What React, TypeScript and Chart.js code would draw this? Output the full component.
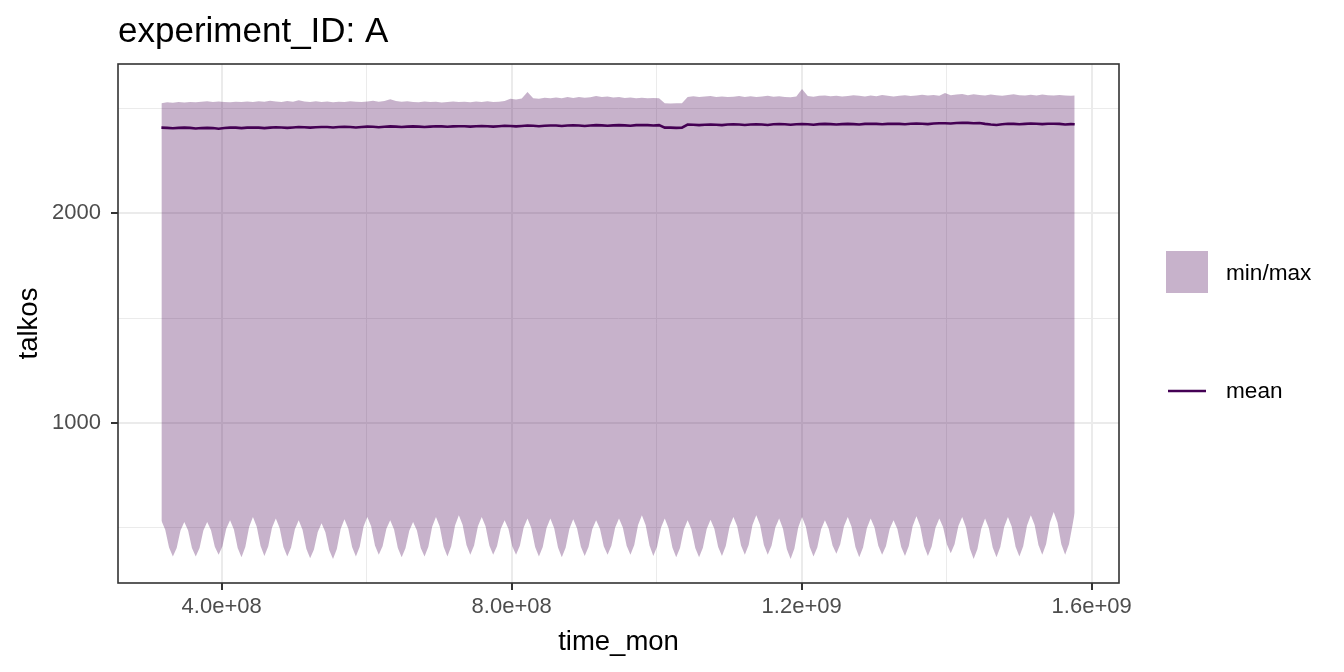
import React, { useEffect, useRef } from 'react';
import { Chart, registerables } from 'chart.js';

Chart.register(...registerables);

// ---- time axis (decimal years -> seconds since epoch) ----
const SEC_PER_YEAR = 31557600;
const START_YEAR = 1980;
const LAST_YEAR_POINT = 2019 + 23 / 24; // mid-December 2019

// min of talkos, sampled every second month (mid Jan, Mar, May, Jul, Sep, Nov), 1980-2019, + Dec 2019
const minValues = [
  532, 489, 404, 361, 402, 485, // 1980
  526, 485, 402, 361, 402, 485, // 1981
  526, 487, 408, 369, 410, 493, // 1982
  534, 490, 402, 358, 406, 502, // 1983
  550, 503, 411, 364, 409, 498, // 1984
  542, 497, 406, 361, 404, 491, // 1985
  534, 489, 398, 353, 395, 478, // 1986
  520, 477, 392, 349, 397, 492, // 1987
  539, 495, 406, 361, 408, 503, // 1988
  550, 505, 414, 369, 410, 493, // 1989
  534, 490, 402, 358, 400, 484, // 1990
  526, 485, 402, 361, 408, 503, // 1991
  550, 503, 408, 361, 410, 509, // 1992
  558, 511, 416, 369, 414, 505, // 1993
  550, 505, 414, 369, 410, 493, // 1994
  534, 493, 410, 369, 412, 499, // 1995
  542, 497, 406, 361, 406, 497, // 1996
  542, 496, 404, 358, 403, 494, // 1997
  539, 495, 408, 364, 407, 492, // 1998
  534, 493, 410, 369, 412, 499, // 1999
  542, 499, 412, 369, 416, 511, // 2000
  558, 510, 413, 364, 409, 498, // 2001
  542, 496, 404, 358, 402, 490, // 2002
  534, 490, 402, 358, 403, 492, // 2003
  537, 494, 407, 364, 411, 504, // 2004
  550, 505, 414, 369, 416, 511, // 2005
  558, 511, 416, 369, 412, 499, // 2006
  542, 494, 397, 349, 399, 500, // 2007
  550, 503, 408, 361, 404, 491, // 2008
  534, 494, 414, 374, 418, 506, // 2009
  550, 502, 406, 358, 404, 496, // 2010
  542, 499, 412, 369, 410, 493, // 2011
  534, 492, 407, 364, 411, 506, // 2012
  553, 506, 411, 364, 409, 498, // 2013
  542, 501, 418, 377, 420, 507, // 2014
  550, 500, 399, 349, 397, 494, // 2015
  542, 496, 404, 358, 406, 502, // 2016
  550, 503, 408, 361, 410, 509, // 2017
  558, 511, 416, 369, 420, 522, // 2018
  573, 522, 420, 369, 419, 518, // 2019
  570, // Dec 2019
];

// max of talkos, quarterly (mid Jan, Apr, Jul, Oct), 1980-2019, + Dec 2019
const maxValues = [
  2526, 2530, 2528, 2531, // 1980
  2529, 2532, 2530, 2533, // 1981
  2535, 2532, 2534, 2531, // 1982
  2530, 2533, 2531, 2534, // 1983
  2532, 2535, 2533, 2537, // 1984
  2534, 2531, 2536, 2533, // 1985
  2540, 2534, 2532, 2535, // 1986
  2531, 2534, 2530, 2533, // 1987
  2532, 2535, 2533, 2531, // 1988
  2534, 2537, 2533, 2536, // 1989
  2545, 2536, 2533, 2535, // 1990
  2532, 2530, 2534, 2531, // 1991
  2533, 2529, 2532, 2534, // 1992
  2531, 2533, 2530, 2534, // 1993
  2532, 2535, 2531, 2533, // 1994
  2536, 2547, 2543, 2548, // 1995
  2579, 2550, 2547, 2552, // 1996
  2549, 2553, 2550, 2555, // 1997
  2551, 2556, 2552, 2554, // 1998
  2560, 2555, 2558, 2553, // 1999
  2556, 2551, 2553, 2550, // 2000
  2552, 2549, 2551, 2549, // 2001
  2526, 2524, 2526, 2525, // 2002
  2556, 2559, 2555, 2558, // 2003
  2560, 2556, 2558, 2555, // 2004
  2557, 2560, 2556, 2559, // 2005
  2555, 2558, 2561, 2557, // 2006
  2559, 2556, 2554, 2558, // 2007
  2594, 2560, 2557, 2561, // 2008
  2563, 2559, 2561, 2558, // 2009
  2560, 2564, 2561, 2558, // 2010
  2562, 2559, 2565, 2561, // 2011
  2558, 2561, 2564, 2560, // 2012
  2563, 2566, 2562, 2565, // 2013
  2561, 2574, 2564, 2567, // 2014
  2570, 2564, 2568, 2565, // 2015
  2563, 2567, 2564, 2561, // 2016
  2565, 2568, 2564, 2562, // 2017
  2566, 2563, 2567, 2564, // 2018
  2562, 2565, 2563, 2561, // 2019
  2562, // Dec 2019
];

// mean of talkos, quarterly (mid Jan, Apr, Jul, Oct), 1980-2019, + Dec 2019
const meanValues = [
  2409, 2408, 2406, 2408, // 1980
  2409, 2408, 2405, 2407, // 1981
  2408, 2407, 2404, 2407, // 1982
  2409, 2409, 2407, 2409, // 1983
  2410, 2409, 2407, 2409, // 1984
  2411, 2410, 2408, 2410, // 1985
  2412, 2411, 2409, 2411, // 1986
  2412, 2412, 2410, 2412, // 1987
  2413, 2412, 2410, 2412, // 1988
  2414, 2413, 2411, 2413, // 1989
  2415, 2414, 2412, 2414, // 1990
  2415, 2414, 2412, 2414, // 1991
  2416, 2415, 2413, 2415, // 1992
  2416, 2416, 2414, 2416, // 1993
  2417, 2416, 2414, 2416, // 1994
  2418, 2417, 2415, 2417, // 1995
  2419, 2418, 2416, 2418, // 1996
  2419, 2419, 2417, 2419, // 1997
  2420, 2419, 2417, 2419, // 1998
  2421, 2420, 2418, 2420, // 1999
  2421, 2420, 2418, 2421, // 2000
  2422, 2421, 2419, 2421, // 2001
  2409, 2409, 2408, 2409, // 2002
  2424, 2423, 2421, 2423, // 2003
  2424, 2423, 2421, 2424, // 2004
  2425, 2424, 2422, 2424, // 2005
  2425, 2424, 2422, 2425, // 2006
  2426, 2425, 2423, 2425, // 2007
  2426, 2425, 2423, 2426, // 2008
  2427, 2426, 2424, 2426, // 2009
  2427, 2426, 2424, 2427, // 2010
  2428, 2427, 2425, 2427, // 2011
  2428, 2427, 2425, 2428, // 2012
  2429, 2428, 2426, 2429, // 2013
  2430, 2430, 2429, 2431, // 2014
  2432, 2432, 2430, 2431, // 2015
  2427, 2424, 2422, 2425, // 2016
  2428, 2427, 2425, 2427, // 2017
  2429, 2428, 2426, 2428, // 2018
  2428, 2427, 2424, 2426, // 2019
  2425, // Dec 2019
];

// ---- axes ----
const xMajor = [4e8, 8e8, 1.2e9, 1.6e9];
const xLabels = ['4.0e+08', '8.0e+08', '1.2e+09', '1.6e+09'];
const xMinor = [6e8, 1e9, 1.4e9];
const yMajor = [1000, 2000];
const yLabels = ['1000', '2000'];
const yMinor = [500, 1500, 2500];
const X_MIN = 2.57e8;
const X_MAX = 1.6377e9;
const Y_MIN = 234.5;
const Y_MAX = 2713;

const TITLE = 'experiment_ID: A';
const X_TITLE = 'time_mon';
const Y_TITLE = 'talkos';
const LEGEND_FILL = 'min/max';
const LEGEND_LINE = 'mean';

const PURPLE = '#440154';
const PURPLE_FILL = 'rgba(68,1,84,0.3)';
const FONT = '"Liberation Sans", Arial, Helvetica, sans-serif';

const yearToSec = (yr: number) => (yr - 1970) * SEC_PER_YEAR;
const seriesPoints = (values: number[], perYear: number) =>
  values.map((v, i) => {
    const yr = i === values.length - 1 ? LAST_YEAR_POINT : START_YEAR + 1 / 24 + i / perYear;
    return { x: yearToSec(yr), y: v };
  });

const decorPlugin = {
  id: 'decor',
  afterDatasetsDraw(chart: any) {
    const { ctx, chartArea: a } = chart;
    ctx.save();
    ctx.strokeStyle = '#333333';
    ctx.lineWidth = 1.6;
    ctx.strokeRect(a.left, a.top, a.right - a.left, a.bottom - a.top);
    ctx.restore();
  },
  afterDraw(chart: any) {
    const { ctx, chartArea: a } = chart;
    ctx.save();
    ctx.fillStyle = '#000000';
    ctx.textBaseline = 'alphabetic';
    // title
    ctx.font = `35px ${FONT}`;
    ctx.textAlign = 'left';
    ctx.fillText(TITLE, a.left, 42);
    // x title
    ctx.font = `27.5px ${FONT}`;
    ctx.textAlign = 'center';
    ctx.fillText(X_TITLE, (a.left + a.right) / 2, 650);
    // y title
    ctx.save();
    ctx.translate(37, (a.top + a.bottom) / 2);
    ctx.rotate(-Math.PI / 2);
    ctx.fillText(Y_TITLE, 0, 0);
    ctx.restore();
    // legend
    ctx.fillStyle = PURPLE_FILL;
    ctx.fillRect(1166, 251, 42, 42);
    ctx.strokeStyle = PURPLE;
    ctx.lineWidth = 2.6;
    ctx.beginPath();
    ctx.moveTo(1168, 391);
    ctx.lineTo(1206, 391);
    ctx.stroke();
    ctx.fillStyle = '#000000';
    ctx.font = `22.6px ${FONT}`;
    ctx.textAlign = 'left';
    ctx.fillText(LEGEND_FILL, 1226, 280);
    ctx.fillText(LEGEND_LINE, 1226, 398);
    ctx.restore();
  },
};

export default function App() {
  const ref = useRef<HTMLCanvasElement | null>(null);

  useEffect(() => {
    if (!ref.current) return;
    const chart = new Chart(ref.current, {
      type: 'line',
      data: {
        datasets: [
          {
            label: 'min',
            data: seriesPoints(minValues, 6),
            borderColor: 'rgba(0,0,0,0)',
            borderWidth: 0,
            pointRadius: 0,
            fill: false,
          },
          {
            label: LEGEND_FILL,
            data: seriesPoints(maxValues, 4),
            borderColor: 'rgba(0,0,0,0)',
            borderWidth: 0,
            pointRadius: 0,
            backgroundColor: PURPLE_FILL,
            fill: { target: 0 },
          },
          {
            label: LEGEND_LINE,
            data: seriesPoints(meanValues, 4),
            borderColor: PURPLE,
            borderWidth: 2.6,
            pointRadius: 0,
            fill: false,
          },
        ],
      },
      options: {
        responsive: false,
        animation: false,
        devicePixelRatio: 1,
        events: [],
        layout: { padding: { top: 64, right: 225, left: 0, bottom: 0 } },
        plugins: {
          legend: { display: false },
          title: { display: false },
          tooltip: { enabled: false },
        },
        scales: {
          x: {
            type: 'linear',
            min: X_MIN,
            max: X_MAX,
            afterBuildTicks: (s: any) => {
              s.ticks = [...xMajor, ...xMinor].sort((p, q) => p - q).map((v) => ({ value: v }));
            },
            afterFit: (s: any) => {
              s.height = 89;
            },
            border: { display: false },
            grid: {
              color: '#EBEBEB',
              lineWidth: (c: any) => (xMajor.includes(c.tick?.value) ? 2 : 1),
              tickColor: (c: any) => (xMajor.includes(c.tick?.value) ? '#333333' : 'rgba(0,0,0,0)'),
              tickWidth: 2,
              tickLength: 7,
            },
            ticks: {
              autoSkip: false,
              maxRotation: 0,
              padding: 4,
              color: '#4D4D4D',
              font: { size: 22, family: FONT },
              callback: (v: any) => {
                const i = xMajor.indexOf(Number(v));
                return i >= 0 ? xLabels[i] : '';
              },
            },
          },
          y: {
            type: 'linear',
            min: Y_MIN,
            max: Y_MAX,
            afterBuildTicks: (s: any) => {
              s.ticks = [...yMajor, ...yMinor].sort((p, q) => p - q).map((v) => ({ value: v }));
            },
            afterFit: (s: any) => {
              s.width = 118;
            },
            border: { display: false },
            grid: {
              color: '#EBEBEB',
              lineWidth: (c: any) => (yMajor.includes(c.tick?.value) ? 2 : 1),
              tickColor: (c: any) => (yMajor.includes(c.tick?.value) ? '#333333' : 'rgba(0,0,0,0)'),
              tickWidth: 2,
              tickLength: 7,
            },
            ticks: {
              autoSkip: false,
              padding: 10,
              color: '#4D4D4D',
              font: { size: 22, family: FONT },
              callback: (v: any) => {
                const i = yMajor.indexOf(Number(v));
                return i >= 0 ? yLabels[i] : '';
              },
            },
          },
        },
      },
      plugins: [decorPlugin],
    } as any);
    return () => chart.destroy();
  }, []);

  return (
    <div style={{ position: 'fixed', left: 0, top: 0, width: 1344, height: 672, background: '#ffffff' }}>
      <canvas ref={ref} width={1344} height={672} style={{ display: 'block' }} />
    </div>
  );
}
